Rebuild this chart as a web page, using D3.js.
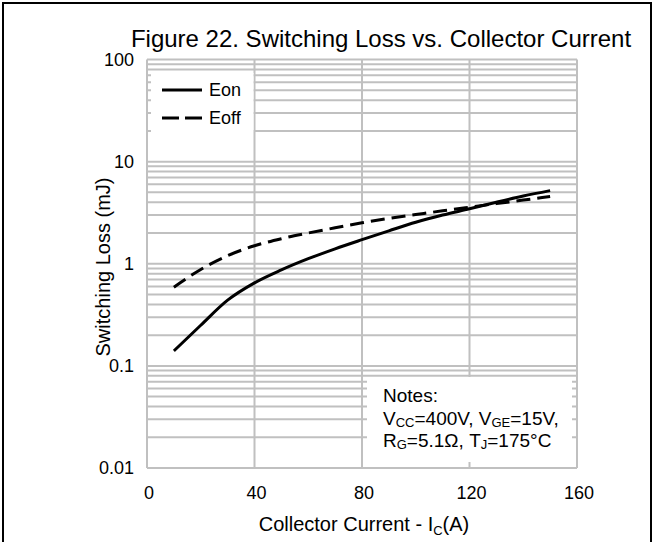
<!DOCTYPE html>
<html>
<head>
<meta charset="utf-8">
<script src="https://cdn.jsdelivr.net/npm/d3@7"></script>
<style>
  html, body { margin: 0; padding: 0; background: #fff; }
  svg { display: block; font-family: "Liberation Sans", Arial, sans-serif; }
</style>
</head>
<body>
<svg id="chart" width="654" height="542"></svg>
<script>
// ---- data ----
const currents = [10, 20, 30, 40, 50, 60, 70, 80, 90, 100, 110, 120, 130, 140, 150];
const eon  = [0.14, 0.25, 0.44, 0.65, 0.87, 1.12, 1.4, 1.72, 2.1, 2.55, 3.0, 3.45, 4.0, 4.6, 5.2];
const eoff = [0.59, 0.88, 1.2, 1.5, 1.76, 2.0, 2.25, 2.52, 2.78, 3.03, 3.3, 3.58, 3.88, 4.2, 4.55];
const xTicks = [0, 40, 80, 120, 160];
const yTicks = [0.01, 0.1, 1, 10, 100];
const yTickLabels = ["0.01", "0.1", "1", "10", "100"];
const seriesNames = ["Eon", "Eoff"];
const titleText = "Figure 22. Switching Loss vs. Collector Current";

// ---- layout ----
const svg = d3.select("#chart");
const L = 147, R = 577, T = 59.5, B = 468;
const x = d3.scaleLinear().domain([0, 160]).range([L, R]);
const y = d3.scaleLog().domain([0.01, 100]).range([B, T]);
const gridColor = "#c0c0c0";

// outer frame
svg.append("line").attr("x1", 2).attr("x2", 652).attr("y1", 3).attr("y2", 3).attr("stroke", "#000").attr("stroke-width", 2);
svg.append("line").attr("x1", 3).attr("x2", 3).attr("y1", 2).attr("y2", 542).attr("stroke", "#000").attr("stroke-width", 2);
svg.append("line").attr("x1", 651).attr("x2", 651).attr("y1", 2).attr("y2", 542).attr("stroke", "#000").attr("stroke-width", 2);

// title
svg.append("text").attr("x", 381).attr("y", 47).attr("text-anchor", "middle")
  .attr("font-size", 24).attr("fill", "#000").text(titleText);

// horizontal gridlines (all log minor values)
const hLines = [];
for (let d = 0.01; d < 100; d *= 10) {
  for (let k = 1; k < 10; k++) hLines.push(+(d * k).toPrecision(3));
}
hLines.push(100);
svg.append("g").selectAll("line").data(hLines).join("line")
  .attr("x1", L).attr("x2", R)
  .attr("y1", d => y(d)).attr("y2", d => y(d))
  .attr("stroke", gridColor).attr("stroke-width", 2);

// vertical gridlines
svg.append("g").selectAll("line").data(xTicks).join("line")
  .attr("x1", d => x(d)).attr("x2", d => x(d))
  .attr("y1", T).attr("y2", B)
  .attr("stroke", gridColor).attr("stroke-width", 2);

// legend box (white, covers grid)
svg.append("rect").attr("x", 151).attr("y", 73).attr("width", x(40) - 151 - 1).attr("height", 59).attr("fill", "#fff");
// notes box
svg.append("rect").attr("x", 367).attr("y", 377).attr("width", 205).attr("height", 85).attr("fill", "#fff");

// axes tick labels
svg.append("g").selectAll("text").data(yTicks).join("text")
  .attr("x", 134).attr("y", d => y(d)).attr("dy", "0.35em")
  .attr("text-anchor", "end").attr("font-size", 18).attr("fill", "#000")
  .text((d, i) => yTickLabels[i]);
svg.append("g").selectAll("text").data(xTicks).join("text")
  .attr("x", d => x(d) + 2).attr("y", 499)
  .attr("text-anchor", "middle").attr("font-size", 18).attr("fill", "#000")
  .text(d => d);

// axis titles
const xt = svg.append("text").attr("x", 364).attr("y", 531).attr("text-anchor", "middle")
  .attr("font-size", 20).attr("fill", "#000");
xt.append("tspan").text("Collector Current - I");
xt.append("tspan").attr("font-size", 13).attr("dy", 4).text("C");
xt.append("tspan").attr("dy", -4).text("(A)");

svg.append("text").attr("transform", "translate(110,267) rotate(-90)")
  .attr("text-anchor", "middle").attr("font-size", 20).attr("fill", "#000")
  .text("Switching Loss (mJ)");

// curves
const line = d3.line().x(d => x(d[0])).y(d => y(d[1])).curve(d3.curveMonotoneX);
const eonPts = currents.map((c, i) => [c, eon[i]]);
const eoffPts = currents.map((c, i) => [c, eoff[i]]);
svg.append("path").attr("d", line(eoffPts)).attr("fill", "none").attr("stroke", "#000")
  .attr("stroke-width", 3).attr("stroke-dasharray", "14,7");
svg.append("path").attr("d", line(eonPts)).attr("fill", "none").attr("stroke", "#000")
  .attr("stroke-width", 3);

// legend
const legY = [90, 118];
const leg = svg.append("g");
leg.selectAll("line").data(seriesNames).join("line")
  .attr("x1", 162).attr("x2", 202)
  .attr("y1", (d, i) => legY[i]).attr("y2", (d, i) => legY[i])
  .attr("stroke", "#000").attr("stroke-width", 3)
  .attr("stroke-dasharray", (d, i) => i === 1 ? "17,6" : null);
leg.selectAll("text").data(seriesNames).join("text")
  .attr("x", 209).attr("y", (d, i) => legY[i]).attr("dy", "0.35em")
  .attr("font-size", 18).attr("fill", "#000").text(d => d);

// notes text
const nx = 383;
const notes = svg.append("g").attr("font-size", 19).attr("fill", "#000");
notes.append("text").attr("x", nx).attr("y", 402).text("Notes:");
const n2 = notes.append("text").attr("x", nx).attr("y", 425);
n2.append("tspan").text("V");
n2.append("tspan").attr("font-size", 13).attr("dy", 2).text("CC");
n2.append("tspan").attr("dy", -2).text("=400V, V");
n2.append("tspan").attr("font-size", 13).attr("dy", 2).text("GE");
n2.append("tspan").attr("dy", -2).text("=15V,");
const n3 = notes.append("text").attr("x", nx).attr("y", 447);
n3.append("tspan").text("R");
n3.append("tspan").attr("font-size", 13).attr("dy", 2).text("G");
n3.append("tspan").attr("dy", -2).text("=5.1Ω, T");
n3.append("tspan").attr("font-size", 13).attr("dy", 2).text("J");
n3.append("tspan").attr("dy", -2).text("=175°C");
</script>
</body>
</html>
